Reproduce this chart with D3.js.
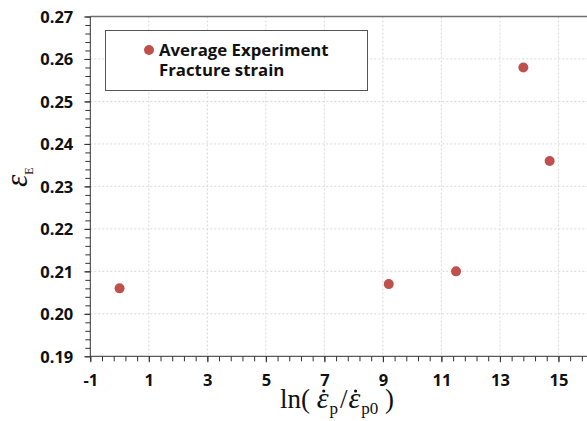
<!DOCTYPE html>
<html><head><meta charset="utf-8">
<script src="https://cdn.jsdelivr.net/npm/d3@7"></script>
<style>
body{margin:0;background:#fff;}
svg{display:block;}
.tick text{font-family:"Open Sans",sans-serif;font-weight:bold;font-size:16.5px;fill:#111;}
</style></head>
<body><svg id="c" width="587" height="421"></svg>
<script>
const xValues = [0, 9.2, 11.5, 13.8, 14.7];
const yValues = [0.206, 0.207, 0.210, 0.258, 0.236];
const xTickValues = [-1, 1, 3, 5, 7, 9, 11, 13, 15];
const yTickValues = [0.19, 0.20, 0.21, 0.22, 0.23, 0.24, 0.25, 0.26, 0.27];
const legendLines = ["Average Experiment", "Fracture strain"];

const svg = d3.select("#c");
const x = d3.scaleLinear().domain([-1, 16]).range([90.3, 587.7]);
const y = d3.scaleLinear().domain([0.19, 0.27]).range([356.3, 16.5]);

// grid
const g = svg.append("g");
g.selectAll(".gx").data(xTickValues.slice(1)).enter().append("line")
  .attr("x1", d => x(d)).attr("x2", d => x(d)).attr("y1", y(0.27)).attr("y2", y(0.19))
  .attr("stroke", "#d9d9d9").attr("stroke-dasharray", "2,2");
g.selectAll(".gy").data(yTickValues.slice(1)).enter().append("line")
  .attr("x1", x(-1)).attr("x2", 587).attr("y1", d => y(d)).attr("y2", d => y(d))
  .attr("stroke", "#d9d9d9").attr("stroke-dasharray", "2,2");

// top border
svg.append("line").attr("x1", x(-1)).attr("x2", 587).attr("y1", y(0.27)).attr("y2", y(0.27))
  .attr("stroke", "#6e6e6e").attr("stroke-width", 1.5);

// minor ticks
const xMinor = d3.range(-1, 16.01, 0.4).map(v => +v.toFixed(2));
const yMinor = d3.range(0.19, 0.2701, 0.002).map(v => +v.toFixed(3));
svg.append("g").attr("transform", `translate(0,${y(0.19)})`)
  .call(d3.axisBottom(x).tickValues(xMinor).tickSize(5).tickFormat(""))
  .call(s => s.select(".domain").remove())
  .selectAll("line").attr("stroke", "#333");
svg.append("g").attr("transform", `translate(${x(-1)},0)`)
  .call(d3.axisLeft(y).tickValues(yMinor).tickSize(5).tickFormat(""))
  .call(s => s.select(".domain").remove())
  .selectAll("line").attr("stroke", "#333");

// major axes
const xa = svg.append("g").attr("transform", `translate(0,${y(0.19)})`)
  .call(d3.axisBottom(x).tickValues(xTickValues).tickSize(6).tickPadding(12).tickFormat(d => String(d)));
xa.select(".domain").attr("stroke", "#333").attr("d", `M${x(-1)},0H587`);
xa.selectAll("line").attr("stroke", "#333");
const ya = svg.append("g").attr("transform", `translate(${x(-1)},0)`)
  .call(d3.axisLeft(y).tickValues(yTickValues).tickSize(6).tickPadding(11).tickFormat(d => d.toFixed(2)));
ya.select(".domain").attr("stroke", "#333").attr("d", `M0,${y(0.19)}V${y(0.27)}`);
ya.selectAll("line").attr("stroke", "#333");
ya.selectAll("text").attr("dy", "0.36em");

// points
svg.selectAll(".pt").data(xValues.map((v, i) => [v, yValues[i]])).enter().append("circle")
  .attr("cx", d => x(d[0])).attr("cy", d => y(d[1])).attr("r", 5)
  .attr("fill", "#c0504d");

// legend
svg.append("rect").attr("x", 105.5).attr("y", 30.5).attr("width", 262).attr("height", 60)
  .attr("fill", "#fff").attr("stroke", "#555").attr("stroke-width", 1);
svg.append("circle").attr("cx", 149).attr("cy", 50).attr("r", 5).attr("fill", "#c0504d");
const lt = svg.append("text").attr("y", 56)
  .attr("font-family", "Open Sans, sans-serif").attr("font-weight", "bold").attr("font-size", 16.8)
  .attr("fill", "#111");
lt.selectAll("tspan").data(legendLines).enter().append("tspan")
  .attr("x", 159).attr("dy", (d, i) => i === 0 ? 0 : 20).text(d => d);

// x title
const xt = svg.append("text").attr("x", 337).attr("y", 408).attr("text-anchor", "middle")
  .attr("font-family", "Liberation Serif, Times New Roman, serif").attr("font-size", 27).attr("fill", "#111");
xt.append("tspan").text("ln( ");
xt.append("tspan").attr("font-style", "italic").attr("font-size", 30).text("\u03B5");
xt.append("tspan").attr("font-size", 17).attr("dy", 6).attr("dx", 1).text("p");
xt.append("tspan").attr("dy", -6).attr("dx", 2).text("/");
xt.append("tspan").attr("font-style", "italic").attr("font-size", 30).attr("dx", 1).text("\u03B5");
xt.append("tspan").attr("font-size", 17).attr("dy", 6).attr("dx", 1).text("p0");
xt.append("tspan").attr("dy", -6).text(" )");
// dots above the epsilons
const node = xt.node();
const full = node.textContent;
[...full].forEach((ch, i) => {
  if (ch === "\u03B5") {
    const ext = node.getExtentOfChar(i);
    svg.append("circle").attr("cx", ext.x + ext.width * 0.6).attr("cy", 391).attr("r", 1.6).attr("fill", "#111");
  }
});

// y title
const yt = svg.append("text").attr("transform", "translate(27,187) rotate(-90)")
  .attr("font-family", "Liberation Serif, Times New Roman, serif").attr("font-size", 31).attr("fill", "#111");
yt.append("tspan").attr("font-style", "italic").text("\u03B5");
yt.append("tspan").attr("font-size", 12).attr("dy", 6).text("E");
</script></body></html>
